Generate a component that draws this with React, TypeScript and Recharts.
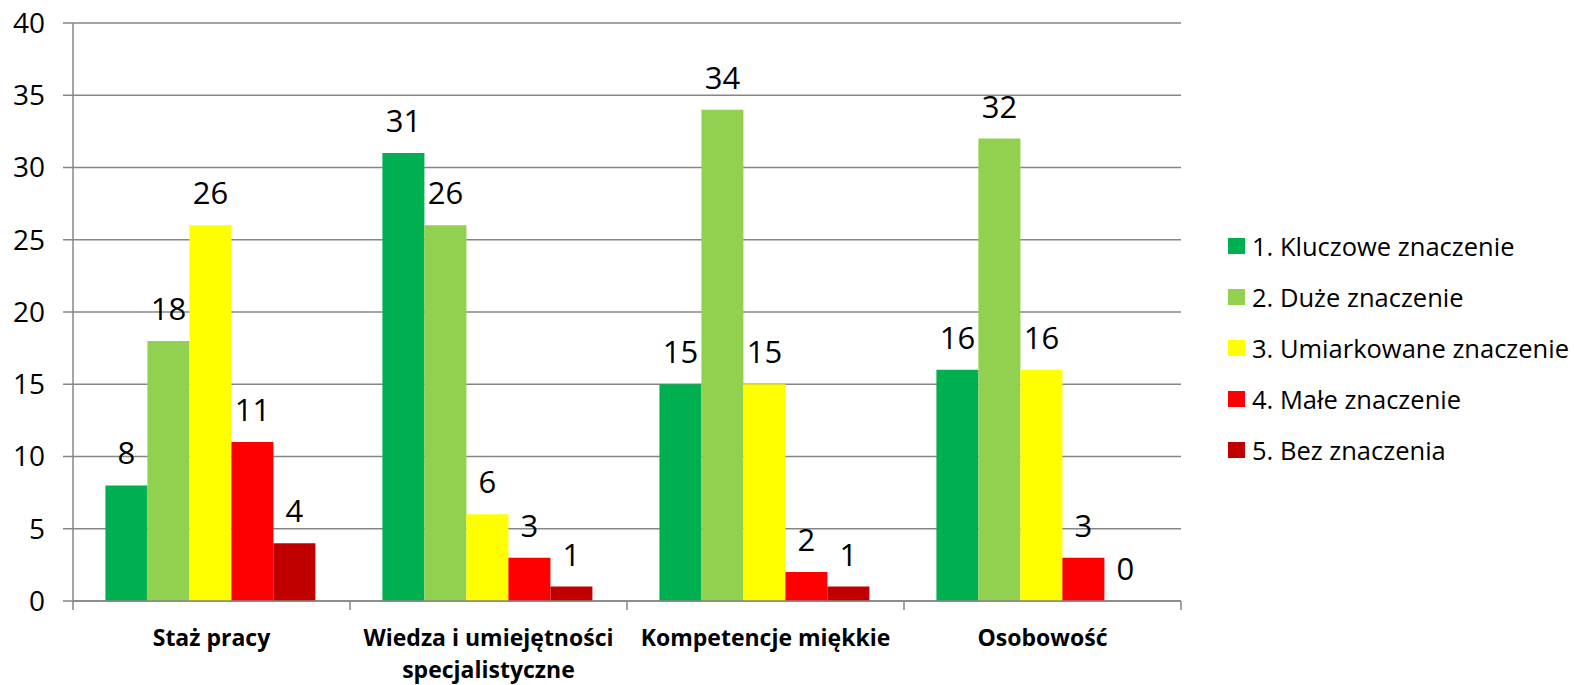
import { BarChart, Bar, XAxis, YAxis, CartesianGrid, Legend, LabelList } from "recharts";

const categories = ["Staż pracy", "Wiedza i umiejętności specjalistyczne", "Kompetencje miękkie", "Osobowość"];
const kluczowe = [8, 31, 15, 16];
const duze = [18, 26, 34, 32];
const umiarkowane = [26, 6, 15, 16];
const male = [11, 3, 2, 3];
const bez = [4, 1, 1, 0];
const yTicks = [0, 5, 10, 15, 20, 25, 30, 35, 40];

const series = [
  { key: "k1", name: "1. Kluczowe znaczenie", color: "#00B050", values: kluczowe },
  { key: "k2", name: "2. Duże znaczenie", color: "#92D050", values: duze },
  { key: "k3", name: "3. Umiarkowane znaczenie", color: "#FFFF00", values: umiarkowane },
  { key: "k4", name: "4. Małe znaczenie", color: "#FF0000", values: male },
  { key: "k5", name: "5. Bez znaczenia", color: "#C00000", values: bez },
];

const chartData = categories.map((name, i) => {
  const row: any = { name };
  series.forEach((s) => { row[s.key] = s.values[i]; });
  return row;
});

const FONT = "'Open Sans', sans-serif";
const GRID = "#868686";

// layout
const W = 1574;
const H = 685;
const MARGIN = { top: 23, right: 393, left: 0, bottom: 0 };
const Y_AXIS_W = 73;
const X_AXIS_H = 84;
const PLOT_BOTTOM = H - MARGIN.bottom - X_AXIS_H;
const BAND = (W - MARGIN.right - MARGIN.left - Y_AXIS_W) / categories.length;

// simple word wrap by character count
const wrap = (label: string, maxChars = 24) => {
  const lines: string[] = [];
  let cur = "";
  label.split(" ").forEach((w) => {
    const next = cur ? cur + " " + w : w;
    if (next.length > maxChars && cur) {
      lines.push(cur);
      cur = w;
    } else {
      cur = next;
    }
  });
  if (cur) lines.push(cur);
  return lines;
};

const CategoryTick = ({ x, payload, index, visibleTicksCount }: any) => {
  const lines = wrap(payload.value);
  const left = x - BAND / 2;
  const right = x + BAND / 2;
  return (
    <g>
      <line x1={left} x2={left} y1={PLOT_BOTTOM} y2={PLOT_BOTTOM + 9} stroke={GRID} strokeWidth={1.5} />
      {index === visibleTicksCount - 1 && (
        <line x1={right} x2={right} y1={PLOT_BOTTOM} y2={PLOT_BOTTOM + 9} stroke={GRID} strokeWidth={1.5} />
      )}
      <text x={x} y={PLOT_BOTTOM + 45} textAnchor="middle" fontFamily={FONT} fontWeight="bold" fontSize={23} fill="#000">
        {lines.map((l, i) => (
          <tspan key={i} x={x} dy={i === 0 ? 0 : 32}>{l}</tspan>
        ))}
      </text>
    </g>
  );
};

// label sits on the top edge of the bar (bottom edge for zero-height bars)
const ValueLabel = ({ x, y, width, height, value }: any) => {
  const top = Math.min(y, y + height);
  return (
    <text x={x + width / 2} y={top - 21} textAnchor="middle" fontFamily={FONT} fontSize={31} fill="#000">
      {value}
    </text>
  );
};

const LegendContent = ({ payload }: any) => (
  <div style={{ fontFamily: FONT }}>
    {(payload || []).map((entry: any) => (
      <div key={entry.value} style={{ display: "flex", alignItems: "center", height: 51 }}>
        <span style={{ width: 17, height: 16, background: entry.color, marginRight: 7, display: "inline-block" }} />
        <span style={{ fontSize: 25.5, color: "#000", whiteSpace: "nowrap" }}>{entry.value}</span>
      </div>
    ))}
  </div>
);

export default function App() {
  return (
    <div style={{ position: "absolute", left: 0, top: 0, background: "#fff" }}>
      <BarChart
        width={W}
        height={H}
        data={chartData}
        margin={MARGIN}
        barCategoryGap="11.7%"
        barGap={0}
      >
        <CartesianGrid vertical={false} stroke={GRID} strokeWidth={1.5} />
        <XAxis
          dataKey="name"
          stroke={GRID}
          strokeWidth={1.5}
          tickLine={false}
          interval={0}
          height={X_AXIS_H}
          tick={<CategoryTick />}
        />
        <YAxis
          domain={[0, 40]}
          ticks={yTicks}
          width={Y_AXIS_W}
          stroke={GRID}
          strokeWidth={1.5}
          tickSize={10}
          tickMargin={18}
          tick={{ fill: "#000", fontSize: 28, fontFamily: FONT }}
        />
        <Legend
          layout="horizontal"
          verticalAlign="middle"
          align="center"
          content={<LegendContent />}
          wrapperStyle={{ left: 1228, top: 220, width: 346 }}
        />
        {series.map((s) => (
          <Bar key={s.key} dataKey={s.key} name={s.name} fill={s.color} minPointSize={0.01} isAnimationActive={false}>
            <LabelList dataKey={s.key} content={<ValueLabel />} />
          </Bar>
        ))}
      </BarChart>
    </div>
  );
}
